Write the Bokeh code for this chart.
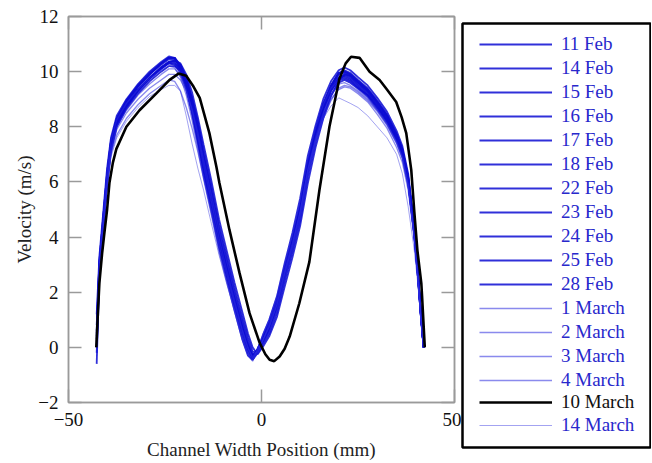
from bokeh.plotting import figure
from bokeh.layouts import row
from bokeh.models import Range1d, FixedTicker, LinearAxis, Legend, LegendItem
from bokeh.embed import file_html
from bokeh.resources import INLINE

# ---------------- data ----------------
position_mm = [-42.7, -42.0, -41.0, -40.0, -39.0, -37.5, -35.0, -32.0, -29.0, -26.0,
               -24.0, -22.5, -21.0, -19.5, -18.0, -16.5, -15.0, -13.0, -11.0, -9.0,
               -7.0, -5.0, -3.5, -2.3, -1.0, 0.5, 2.0, 4.0, 6.0, 8.0,
               10.0, 12.0, 14.0, 16.0, 18.0, 20.0, 21.5, 23.0, 25.0, 27.5,
               30.0, 32.5, 35.0, 36.5, 38.0, 39.5, 40.5, 41.3, 42.0]

v_11feb = [0.5, 3.1, 4.7, 6.3, 7.5, 8.3, 8.95, 9.5, 9.9, 10.3, 10.5, 10.5, 10.15, 9.55, 8.7, 7.7, 6.6, 5.3, 3.9, 2.75,
           1.65, 0.6, -0.05, -0.35, -0.05, 0.4, 0.9, 1.7, 2.9, 3.95, 5.15, 6.75, 7.9, 8.85, 9.5, 9.95, 10.0, 9.9, 9.65, 9.35,
           8.9, 8.4, 7.7, 7.15, 6.15, 4.35, 2.75, 1.2, 0.0]
v_14feb = [0.1, 2.8, 4.4, 6.0, 7.2, 8.1, 8.75, 9.3, 9.75, 10.15, 10.35, 10.4, 10.25, 9.8, 9.05, 8.1, 7.0, 5.7, 4.3, 3.15,
           2.0, 0.95, 0.2, -0.25, -0.15, 0.2, 0.6, 1.4, 2.5, 3.55, 4.75, 6.35, 7.6, 8.55, 9.3, 9.75, 9.9, 9.8, 9.55, 9.25,
           8.8, 8.3, 7.6, 7.05, 6.05, 4.25, 2.65, 1.15, 0.0]
v_15feb = [1.2, 3.3, 4.9, 6.5, 7.6, 8.4, 9.0, 9.55, 10.0, 10.35, 10.55, 10.5, 10.1, 9.45, 8.55, 7.5, 6.4, 5.05, 3.7, 2.6,
           1.5, 0.45, -0.2, -0.45, -0.1, 0.5, 1.0, 1.85, 3.05, 4.15, 5.4, 6.95, 8.05, 9.0, 9.65, 10.05, 10.15, 10.05, 9.8, 9.5,
           9.05, 8.55, 7.85, 7.3, 6.3, 4.5, 2.85, 1.3, 0.0]
v_16feb = [0.2, 2.9, 4.5, 6.1, 7.3, 8.1, 8.75, 9.3, 9.75, 10.1, 10.3, 10.25, 9.95, 9.35, 8.45, 7.4, 6.25, 4.95, 3.6, 2.45,
           1.35, 0.3, -0.3, -0.45, -0.2, 0.25, 0.7, 1.5, 2.65, 3.7, 4.9, 6.5, 7.7, 8.65, 9.35, 9.75, 9.8, 9.7, 9.45, 9.15,
           8.7, 8.2, 7.55, 7.0, 6.0, 4.2, 2.6, 1.1, 0.0]
v_17feb = [-0.2, 2.7, 4.3, 5.9, 7.1, 8.0, 8.65, 9.2, 9.65, 10.0, 10.2, 10.2, 10.05, 9.7, 9.05, 8.2, 7.15, 5.85, 4.45, 3.3,
           2.15, 1.1, 0.35, -0.15, -0.2, 0.15, 0.5, 1.25, 2.4, 3.45, 4.6, 6.2, 7.45, 8.4, 9.15, 9.6, 9.7, 9.6, 9.4, 9.15,
           8.75, 8.25, 7.6, 7.05, 6.05, 4.3, 2.7, 1.2, 0.0]
v_18feb = [0.6, 3.0, 4.6, 6.2, 7.4, 8.25, 8.9, 9.45, 9.9, 10.25, 10.45, 10.45, 10.15, 9.6, 8.8, 7.8, 6.7, 5.4, 4.0, 2.85,
           1.75, 0.7, 0.0, -0.35, -0.1, 0.35, 0.8, 1.6, 2.8, 3.85, 5.05, 6.65, 7.85, 8.8, 9.45, 9.9, 9.95, 9.85, 9.6, 9.3,
           8.85, 8.35, 7.65, 7.1, 6.1, 4.3, 2.7, 1.2, 0.0]
v_22feb = [-0.6, 2.6, 4.4, 6.1, 7.35, 8.2, 8.85, 9.45, 9.9, 10.3, 10.5, 10.5, 10.25, 9.75, 8.95, 7.95, 6.85, 5.55, 4.15, 3.0,
           1.9, 0.85, 0.1, -0.3, -0.15, 0.25, 0.7, 1.5, 2.65, 3.7, 4.9, 6.5, 7.75, 8.75, 9.5, 9.95, 10.05, 9.95, 9.7, 9.4,
           8.95, 8.45, 7.75, 7.2, 6.2, 4.4, 2.75, 1.25, 0.0]
v_23feb = [0.4, 3.0, 4.6, 6.2, 7.35, 8.2, 8.8, 9.35, 9.8, 10.15, 10.35, 10.35, 10.05, 9.5, 8.65, 7.6, 6.5, 5.2, 3.85, 2.7,
           1.6, 0.55, -0.1, -0.4, -0.05, 0.4, 0.85, 1.7, 2.85, 3.9, 5.1, 6.7, 7.85, 8.75, 9.4, 9.8, 9.85, 9.75, 9.5, 9.2,
           8.75, 8.25, 7.55, 7.0, 6.0, 4.2, 2.6, 1.1, 0.0]
v_24feb = [0.0, 2.8, 4.4, 6.0, 7.2, 8.05, 8.7, 9.3, 9.75, 10.15, 10.35, 10.4, 10.3, 9.9, 9.25, 8.35, 7.35, 6.05, 4.65, 3.5,
           2.35, 1.3, 0.5, 0.0, -0.25, 0.05, 0.4, 1.1, 2.2, 3.25, 4.4, 5.95, 7.25, 8.3, 9.1, 9.65, 9.9, 9.85, 9.6, 9.3,
           8.9, 8.4, 7.7, 7.15, 6.15, 4.35, 2.7, 1.2, 0.0]
v_25feb = [0.8, 3.1, 4.7, 6.3, 7.45, 8.3, 8.95, 9.5, 9.95, 10.3, 10.5, 10.5, 10.2, 9.65, 8.85, 7.85, 6.75, 5.45, 4.05, 2.9,
           1.8, 0.75, 0.05, -0.3, -0.1, 0.3, 0.75, 1.55, 2.75, 3.8, 5.0, 6.6, 7.75, 8.65, 9.3, 9.7, 9.75, 9.65, 9.4, 9.1,
           8.65, 8.15, 7.5, 6.95, 5.95, 4.2, 2.6, 1.15, 0.0]
v_28feb = [0.3, 2.9, 4.5, 6.1, 7.3, 8.15, 8.8, 9.35, 9.75, 10.1, 10.3, 10.3, 10.1, 9.65, 8.9, 7.95, 6.9, 5.6, 4.2, 3.05,
           1.95, 0.9, 0.15, -0.25, -0.15, 0.25, 0.65, 1.45, 2.6, 3.65, 4.85, 6.45, 7.7, 8.7, 9.45, 9.95, 10.0, 9.9, 9.65, 9.35,
           8.9, 8.4, 7.7, 7.15, 6.15, 4.35, 2.7, 1.2, 0.0]
v_1mar = [0.2, 2.8, 4.3, 5.8, 7.0, 7.7, 8.3, 8.8, 9.2, 9.5, 9.7, 9.65, 9.3, 8.7, 7.95, 7.1, 6.15, 4.95, 3.7, 2.65,
          1.6, 0.6, -0.05, -0.35, -0.1, 0.3, 0.75, 1.55, 2.65, 3.65, 4.8, 6.35, 7.5, 8.35, 9.0, 9.35, 9.45, 9.4, 9.2, 8.9,
          8.45, 7.95, 7.25, 6.7, 5.7, 4.0, 2.5, 1.05, 0.0]
v_2mar = [0.4, 2.9, 4.5, 6.0, 7.2, 8.0, 8.6, 9.15, 9.55, 9.9, 10.1, 10.1, 9.85, 9.35, 8.6, 7.65, 6.6, 5.3, 3.95, 2.8,
          1.7, 0.65, 0.0, -0.4, -0.15, 0.3, 0.75, 1.55, 2.7, 3.7, 4.9, 6.45, 7.6, 8.5, 9.15, 9.55, 9.6, 9.5, 9.3, 9.0,
          8.6, 8.1, 7.45, 6.9, 5.9, 4.15, 2.6, 1.1, 0.0]
v_3mar = [0.9, 3.2, 4.8, 6.4, 7.5, 8.25, 8.85, 9.35, 9.75, 10.05, 10.2, 10.15, 9.8, 9.15, 8.25, 7.2, 6.1, 4.8, 3.45, 2.35,
          1.3, 0.3, -0.3, -0.5, -0.05, 0.5, 1.0, 1.85, 3.0, 4.05, 5.3, 6.85, 7.95, 8.8, 9.4, 9.7, 9.7, 9.6, 9.35, 9.05,
          8.6, 8.1, 7.4, 6.85, 5.85, 4.1, 2.55, 1.05, 0.0]
v_4mar = [0.0, 2.7, 4.3, 5.9, 7.05, 7.9, 8.5, 9.0, 9.4, 9.7, 9.9, 9.9, 9.7, 9.3, 8.65, 7.8, 6.8, 5.55, 4.25, 3.1,
          2.0, 0.95, 0.25, -0.2, -0.2, 0.15, 0.55, 1.35, 2.45, 3.5, 4.65, 6.2, 7.4, 8.3, 8.95, 9.4, 9.5, 9.45, 9.25, 8.95,
          8.55, 8.05, 7.4, 6.85, 5.85, 4.1, 2.55, 1.05, 0.0]
v_14mar = [-0.3, 2.6, 4.2, 5.7, 6.9, 7.6, 8.2, 8.7, 9.1, 9.35, 9.5, 9.5, 9.3, 8.4, 7.4, 6.5, 5.7, 4.5, 3.35, 2.3,
           1.35, 0.45, -0.2, -0.45, -0.25, 0.3, 0.85, 1.7, 2.8, 3.8, 4.95, 6.45, 7.5, 8.3, 8.75, 9.05, 8.95, 8.85, 8.7, 8.4,
           8.0, 7.6, 7.0, 6.3, 5.1, 3.6, 2.3, 1.0, 0.0]

position_10mar = [-42.8, -42.4, -42.0, -41.3, -40.7, -40.0, -39.4, -38.5, -37.6, -35.0,
                  -31.6, -27.3, -23.8, -21.5, -19.5, -17.8, -16.0, -13.5, -11.7, -10.9,
                  -8.3, -5.7, -3.1, -0.5, 1.0, 2.1, 3.3, 4.7, 6.0, 7.3,
                  9.8, 12.4, 15.0, 17.6, 20.2, 21.8, 23.2, 25.4, 28.0, 30.6,
                  32.5, 34.9, 36.3, 37.5, 38.8, 39.6, 40.4, 41.4, 41.6, 42.3]
v_10mar = [0.0, 1.2, 2.33, 3.4, 4.15, 5.0, 5.96, 6.7, 7.2, 8.0,
           8.6, 9.2, 9.7, 9.93, 9.85, 9.5, 9.05, 7.77, 6.56, 5.96,
           4.26, 2.7, 1.24, 0.17, -0.25, -0.45, -0.5, -0.33, -0.05, 0.39,
           1.6, 3.1, 5.7, 8.0, 9.75, 10.3, 10.54, 10.5, 10.0, 9.7,
           9.35, 8.9, 8.35, 7.77, 6.43, 4.9, 3.5, 2.33, 1.85, 0.0]

feb_labels = ["11 Feb", "14 Feb", "15 Feb", "16 Feb", "17 Feb", "18 Feb",
              "22 Feb", "23 Feb", "24 Feb", "25 Feb", "28 Feb"]
feb_values = [v_11feb, v_14feb, v_15feb, v_16feb, v_17feb, v_18feb,
              v_22feb, v_23feb, v_24feb, v_25feb, v_28feb]
mar_labels = ["1 March", "2 March", "3 March", "4 March"]
mar_values = [v_1mar, v_2mar, v_3mar, v_4mar]

x_ticks = [-50, 0, 50]
y_ticks = [-2, 0, 2, 4, 6, 8, 10, 12]

# ---------------- styles ----------------
FONT = "Liberation Serif"
FRAME = "#9a9a9a"
FEB_STYLE = dict(line_color="#0c0cd2", line_width=1.8, line_alpha=0.85)
MAR_STYLE = dict(line_color="#2a2ade", line_width=1.3, line_alpha=0.55)
LATE_STYLE = dict(line_color="#3434e0", line_width=1.0, line_alpha=0.45)
BLACK_STYLE = dict(line_color="black", line_width=2.6)

# ---------------- main figure ----------------
p = figure(width=461, height=463, output_backend="svg", toolbar_location=None,
           x_range=Range1d(-50, 50), y_range=Range1d(-2, 12),
           min_border_left=68, min_border_right=7, min_border_top=16, min_border_bottom=61,
           x_axis_label="Channel Width Position (mm)", y_axis_label="Velocity (m/s)",
           frame_align=False)
p.grid.visible = False
p.outline_line_color = FRAME
p.outline_line_width = 1.5


def style_axis(ax, ticks, labels=True):
    ax.ticker = FixedTicker(ticks=ticks)
    ax.axis_line_color = FRAME
    ax.axis_line_width = 1.5
    ax.major_tick_line_color = FRAME
    ax.major_tick_line_width = 1.5
    ax.major_tick_in = 13
    ax.major_tick_out = 0
    ax.minor_tick_line_color = None
    ax.major_label_text_font = FONT
    if labels:
        ax.major_label_text_color = "#111111"
        ax.major_label_text_font_size = "19px"
    else:
        ax.major_label_text_color = None
        ax.major_label_text_font_size = "1px"
        ax.major_label_standoff = 0
    ax.axis_label_text_font = FONT
    ax.axis_label_text_font_size = "19px"
    ax.axis_label_text_font_style = "normal"
    ax.axis_label_text_color = "#222222"


xb = p.xaxis[0]
yl = p.yaxis[0]
style_axis(xb, x_ticks)
style_axis(yl, y_ticks)
xb.major_label_standoff = 10
xb.axis_label_standoff = 10
yl.major_label_standoff = 10
yl.axis_label_standoff = 0

top_ax = LinearAxis()
style_axis(top_ax, x_ticks, labels=False)
p.add_layout(top_ax, "above")
right_ax = LinearAxis()
style_axis(right_ax, y_ticks, labels=False)
p.add_layout(right_ax, "right")

for vals in feb_values:
    p.line(position_mm, vals, **FEB_STYLE)
for vals in mar_values:
    p.line(position_mm, vals, **MAR_STYLE)
p.line(position_mm, v_14mar, **LATE_STYLE)
p.line(position_10mar, v_10mar, **BLACK_STYLE)

# ---------------- legend panel ----------------
lg = figure(width=190, height=463, output_backend="svg", toolbar_location=None,
            x_range=Range1d(0, 1), y_range=Range1d(0, 1),
            x_axis_type=None, y_axis_type=None,
            min_border_left=1, min_border_right=1, min_border_top=23, min_border_bottom=16,
            frame_align=False)
lg.grid.visible = False
lg.outline_line_color = "black"
lg.outline_line_width = 2.5

NAN = [float("nan")]
keys = {}
for lab in feb_labels:
    keys[lab] = lg.line(NAN, NAN, **FEB_STYLE)
for lab in mar_labels:
    keys[lab] = lg.line(NAN, NAN, **MAR_STYLE)
keys["10 March"] = lg.line(NAN, NAN, **BLACK_STYLE)
keys["14 March"] = lg.line(NAN, NAN, **LATE_STYLE)

common = dict(glyph_width=73, glyph_height=22, label_height=22, label_standoff=9, label_width=70,
              label_text_font=FONT, label_text_font_size="19px", spacing=2, margin=0, padding=0,
              border_line_alpha=0, background_fill_alpha=0)

leg1 = Legend(items=[LegendItem(label=l, renderers=[keys[l]]) for l in feb_labels + mar_labels],
              location=(17, 56), label_text_color="#2828cc", **common)
leg2 = Legend(items=[LegendItem(label="10 March", renderers=[keys["10 March"]])],
              location=(17, 34), label_text_color="#111111", **common)
leg3 = Legend(items=[LegendItem(label="14 March", renderers=[keys["14 March"]])],
              location=(17, 11), label_text_color="#2828cc", **common)
for leg in (leg1, leg2, leg3):
    lg.add_layout(leg)

layout = row(p, lg)
open("out.html", "w").write(file_html(layout, INLINE))
